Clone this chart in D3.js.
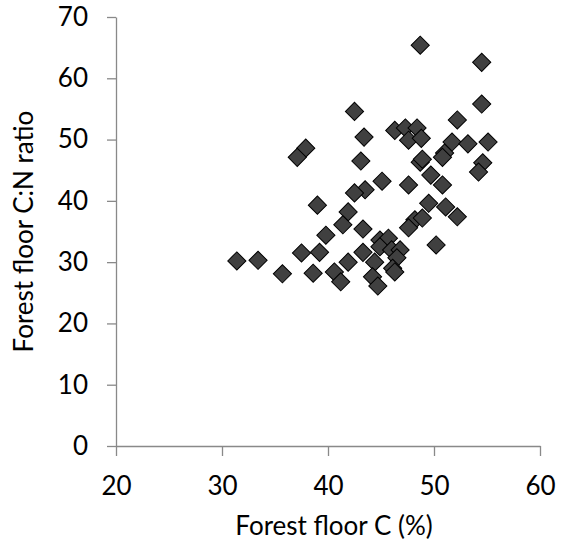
<!DOCTYPE html>
<html>
<head>
<meta charset="utf-8">
<script src="https://cdn.jsdelivr.net/npm/d3@7"></script>
<style>
  body { margin: 0; background: #fff; }
  svg { font-family: Lato, "Open Sans", sans-serif; }
</style>
</head>
<body>
<div id="chart"></div>
<script>
// forest floor C (%) vs C:N ratio
const carbon = [48.7, 54.5, 54.5, 52.2, 42.5, 46.3, 47.3, 48.4, 47.6, 48.8,
                51.7, 53.2, 55.1, 43.4, 37.9, 37.1, 43.1, 51.0, 50.8, 48.7,
                48.9, 54.6, 54.2, 49.7, 50.8, 47.6, 45.1, 43.5, 42.5, 39.0,
                41.9, 49.5, 51.1, 52.2, 48.2, 48.9, 47.6, 41.4, 43.3, 39.8,
                44.9, 45.7, 44.9, 46.0, 46.8, 46.5, 43.3, 44.4, 46.1, 46.3,
                44.2, 44.7, 50.2, 31.4, 33.4, 35.7, 37.5, 39.2, 38.6, 40.6,
                41.2, 41.9];
const cnRatio = [65.4, 62.6, 55.8, 53.2, 54.6, 51.5, 51.9, 51.9, 49.9, 50.2,
                 49.6, 49.3, 49.6, 50.4, 48.6, 47.1, 46.5, 47.8, 47.1, 46.3,
                 46.8, 46.2, 44.7, 44.2, 42.6, 42.6, 43.2, 41.8, 41.3, 39.3,
                 38.2, 39.6, 39.0, 37.4, 36.9, 37.2, 35.6, 36.1, 35.4, 34.4,
                 33.6, 33.9, 32.5, 32.0, 32.0, 30.7, 31.6, 30.0, 29.0, 28.4,
                 27.6, 26.1, 32.8, 30.2, 30.3, 28.1, 31.5, 31.6, 28.2, 28.4,
                 26.8, 30.0];
const xTicks = [20, 30, 40, 50, 60];
const yTicks = [0, 10, 20, 30, 40, 50, 60, 70];

const width = 566, height = 550;
const margin = {top: 17, right: 26, bottom: 104, left: 116};

const svg = d3.select("#chart").append("svg")
    .attr("width", width)
    .attr("height", height);

const x = d3.scaleLinear().domain([20, 60]).range([margin.left, width - margin.right]);
const y = d3.scaleLinear().domain([0, 70]).range([height - margin.bottom, margin.top]);

const axisColor = "#898989";
const fontSize = "26px";

const gx = svg.append("g")
    .attr("transform", `translate(0,${y(0)})`)
    .call(d3.axisBottom(x).tickValues(xTicks).tickSize(10).tickSizeOuter(0).tickPadding(21));
const gy = svg.append("g")
    .attr("transform", `translate(${x(20)},0)`)
    .call(d3.axisLeft(y).tickValues(yTicks).tickSize(9).tickSizeOuter(0).tickPadding(19));

[gx, gy].forEach(g => {
    g.select(".domain").attr("stroke", axisColor).attr("stroke-width", 1.3);
    g.selectAll(".tick line").attr("stroke", axisColor).attr("stroke-width", 1.3);
    g.selectAll(".tick text").attr("fill", "#000").style("font-size", fontSize).style("font-family", "Lato, sans-serif");
});

const diamond = d3.symbol().type(d3.symbolSquare).size(165);

svg.append("g").selectAll("path")
    .data(carbon)
    .join("path")
    .attr("d", diamond)
    .attr("transform", (d, i) => `translate(${x(d)},${y(cnRatio[i])}) rotate(45)`)
    .attr("fill", "#404040")
    .attr("stroke", "#000")
    .attr("stroke-width", 1);

svg.append("text")
    .attr("x", (x(20) + x(60)) / 2 + 6)
    .attr("y", 535)
    .attr("text-anchor", "middle")
    .style("font-size", fontSize)
    .text("Forest floor C (%)");

svg.append("text")
    .attr("transform", `translate(33,${(y(0) + y(70)) / 2}) rotate(-90)`)
    .attr("text-anchor", "middle")
    .style("font-size", fontSize)
    .text("Forest floor C:N ratio");
</script>
</body>
</html>
